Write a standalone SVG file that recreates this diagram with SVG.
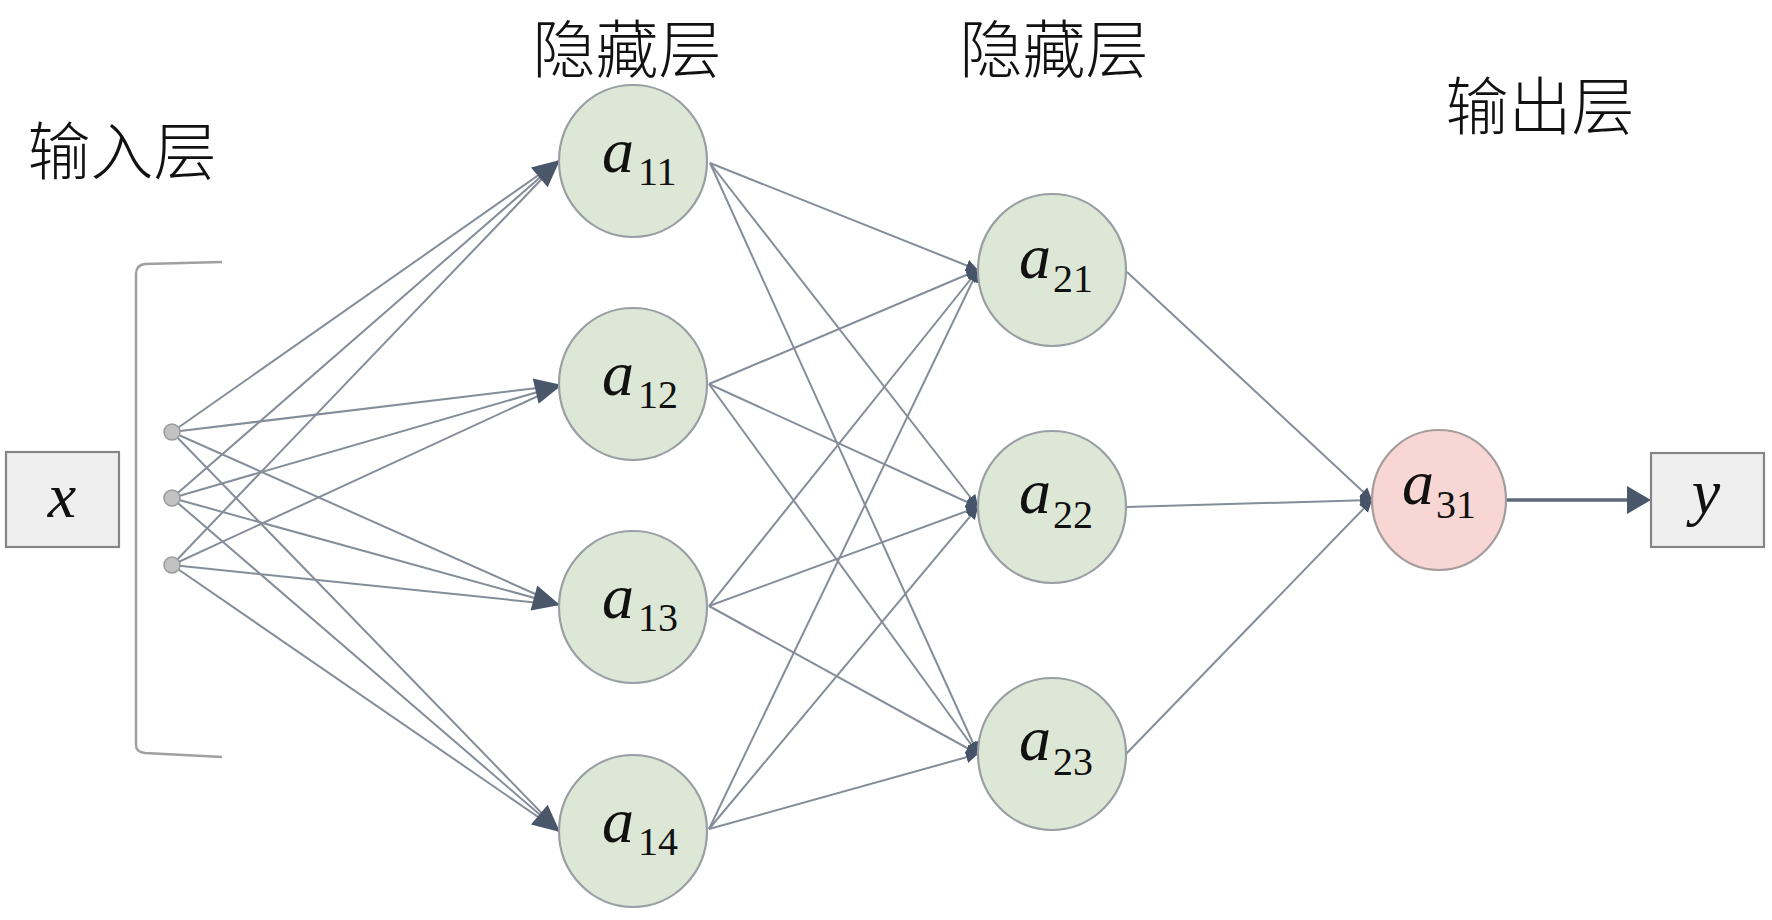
<svg xmlns="http://www.w3.org/2000/svg" width="1772" height="920" viewBox="0 0 1772 920">
<defs>
<style>
.lbl{font-family:"Noto Sans CJK SC",sans-serif;font-size:63px;fill:#111;font-weight:300}
.node{fill:#dce8d5;stroke:#9a9fa5;stroke-width:2.2}
.out{fill:#f8d6d4;stroke:#a59c9e;stroke-width:2.2}
.box{fill:#efefef;stroke:#858585;stroke-width:2.2}
.var{font-family:"Liberation Serif","Times New Roman",Times,serif;font-style:italic;font-size:64px;fill:#111}
.sub{font-family:"Liberation Serif","Times New Roman",Times,serif;font-style:normal;font-size:40px;fill:#111}
.ln{stroke:#858d99;stroke-width:2;fill:none}
.lm{stroke:#858d99;stroke-width:2;fill:none;marker-end:url(#sm)}
.ah{fill:#4a576b}
.dot{fill:#c2c2c2;stroke:#9a9a9a;stroke-width:1.5}
</style>
<marker id="sm" markerUnits="userSpaceOnUse" markerWidth="14" markerHeight="14" refX="12" refY="7" orient="auto">
<path d="M0,1 L12,7 L0,13 z" fill="#46546a"/>
</marker>
</defs>
<rect width="1772" height="920" fill="#ffffff"/>

<g id="titles">
<text class="lbl" x="627" y="72" text-anchor="middle">隐藏层</text>
<text class="lbl" x="1054" y="72" text-anchor="middle">隐藏层</text>
<text class="lbl" x="1540" y="129" text-anchor="middle">输出层</text>
<text class="lbl" x="122" y="174" text-anchor="middle">输入层</text>
</g>

<g id="bracket">
<path d="M222 262 L145 264 Q136 265 136 274 L136 745 Q136 752 145 753 L222 757" fill="none" stroke="#a0a0a0" stroke-width="2.5"/>
</g>

<g id="connectors">
<g class="ln">
<line x1="172" y1="432" x2="560" y2="160"/>
<line x1="172" y1="498" x2="560" y2="160"/>
<line x1="172" y1="565" x2="560" y2="160"/>
<line x1="172" y1="432" x2="562" y2="385"/>
<line x1="172" y1="498" x2="562" y2="385"/>
<line x1="172" y1="565" x2="562" y2="385"/>
<line x1="172" y1="432" x2="560" y2="605"/>
<line x1="172" y1="498" x2="560" y2="605"/>
<line x1="172" y1="565" x2="560" y2="605"/>
<line x1="172" y1="432" x2="560" y2="832"/>
<line x1="172" y1="498" x2="560" y2="832"/>
<line x1="172" y1="565" x2="560" y2="832"/>
</g>
<polygon class="ah" points="0,0 -27,-13 -27,13" transform="translate(560 160) rotate(-40)"/>
<polygon class="ah" points="0,0 -27,-13 -27,13" transform="translate(562 385) rotate(-13)"/>
<polygon class="ah" points="0,0 -27,-13 -27,13" transform="translate(560 605) rotate(15)"/>
<polygon class="ah" points="0,0 -27,-13 -27,13" transform="translate(560 832) rotate(40)"/>
<line class="lm" x1="710" y1="163" x2="978" y2="270"/>
<line class="lm" x1="710" y1="163" x2="978" y2="507"/>
<line class="lm" x1="710" y1="163" x2="978" y2="754"/>
<line class="lm" x1="709" y1="384" x2="978" y2="270"/>
<line class="lm" x1="709" y1="384" x2="978" y2="507"/>
<line class="lm" x1="709" y1="384" x2="978" y2="754"/>
<line class="lm" x1="709" y1="606" x2="978" y2="270"/>
<line class="lm" x1="709" y1="606" x2="978" y2="507"/>
<line class="lm" x1="709" y1="606" x2="978" y2="754"/>
<line class="lm" x1="709" y1="829" x2="978" y2="270"/>
<line class="lm" x1="709" y1="829" x2="978" y2="507"/>
<line class="lm" x1="709" y1="829" x2="978" y2="754"/>
<line class="lm" x1="1127" y1="272" x2="1372" y2="500"/>
<line class="lm" x1="1126" y1="507" x2="1372" y2="500"/>
<line class="lm" x1="1126" y1="754" x2="1372" y2="500"/>
<line x1="1507" y1="500" x2="1630" y2="500" stroke="#5e6a7b" stroke-width="3.5"/>
<polygon class="ah" points="1651,500 1627,486 1627,514"/>
</g>

<g id="input-x">
<rect class="box" x="6" y="452" width="113" height="95"/>
<text class="var" x="62" y="517" text-anchor="middle">x</text>
</g>

<g id="input-dots">
<circle class="dot" cx="172" cy="432" r="8"/>
<circle class="dot" cx="172" cy="498" r="8"/>
<circle class="dot" cx="172" cy="565" r="8"/>
</g>

<g id="a11">
<ellipse class="node" cx="633" cy="161" rx="74" ry="76"/>
<text x="602" y="172"><tspan class="var">a</tspan><tspan class="sub" dx="4" dy="13">11</tspan></text>
</g>
<g id="a12">
<ellipse class="node" cx="633" cy="384" rx="74" ry="76"/>
<text x="602" y="395"><tspan class="var">a</tspan><tspan class="sub" dx="4" dy="13">12</tspan></text>
</g>
<g id="a13">
<ellipse class="node" cx="633" cy="607" rx="74" ry="76"/>
<text x="602" y="618"><tspan class="var">a</tspan><tspan class="sub" dx="4" dy="13">13</tspan></text>
</g>
<g id="a14">
<ellipse class="node" cx="633" cy="831" rx="74" ry="76"/>
<text x="602" y="842"><tspan class="var">a</tspan><tspan class="sub" dx="4" dy="13">14</tspan></text>
</g>

<g id="a21">
<ellipse class="node" cx="1052" cy="270" rx="74" ry="76"/>
<text x="1019" y="278"><tspan class="var">a</tspan><tspan class="sub" dx="2" dy="14">21</tspan></text>
</g>
<g id="a22">
<ellipse class="node" cx="1052" cy="507" rx="74" ry="76"/>
<text x="1019" y="513"><tspan class="var">a</tspan><tspan class="sub" dx="2" dy="15">22</tspan></text>
</g>
<g id="a23">
<ellipse class="node" cx="1052" cy="754" rx="74" ry="76"/>
<text x="1019" y="760"><tspan class="var">a</tspan><tspan class="sub" dx="2" dy="15">23</tspan></text>
</g>

<g id="a31">
<ellipse class="out" cx="1439" cy="500" rx="67" ry="70"/>
<text x="1402" y="504"><tspan class="var">a</tspan><tspan class="sub" dx="2" dy="14">31</tspan></text>
</g>

<g id="output-y">
<rect class="box" x="1651" y="453" width="113" height="94"/>
<text class="var" x="1706" y="513" text-anchor="middle">y</text>
</g>
</svg>
